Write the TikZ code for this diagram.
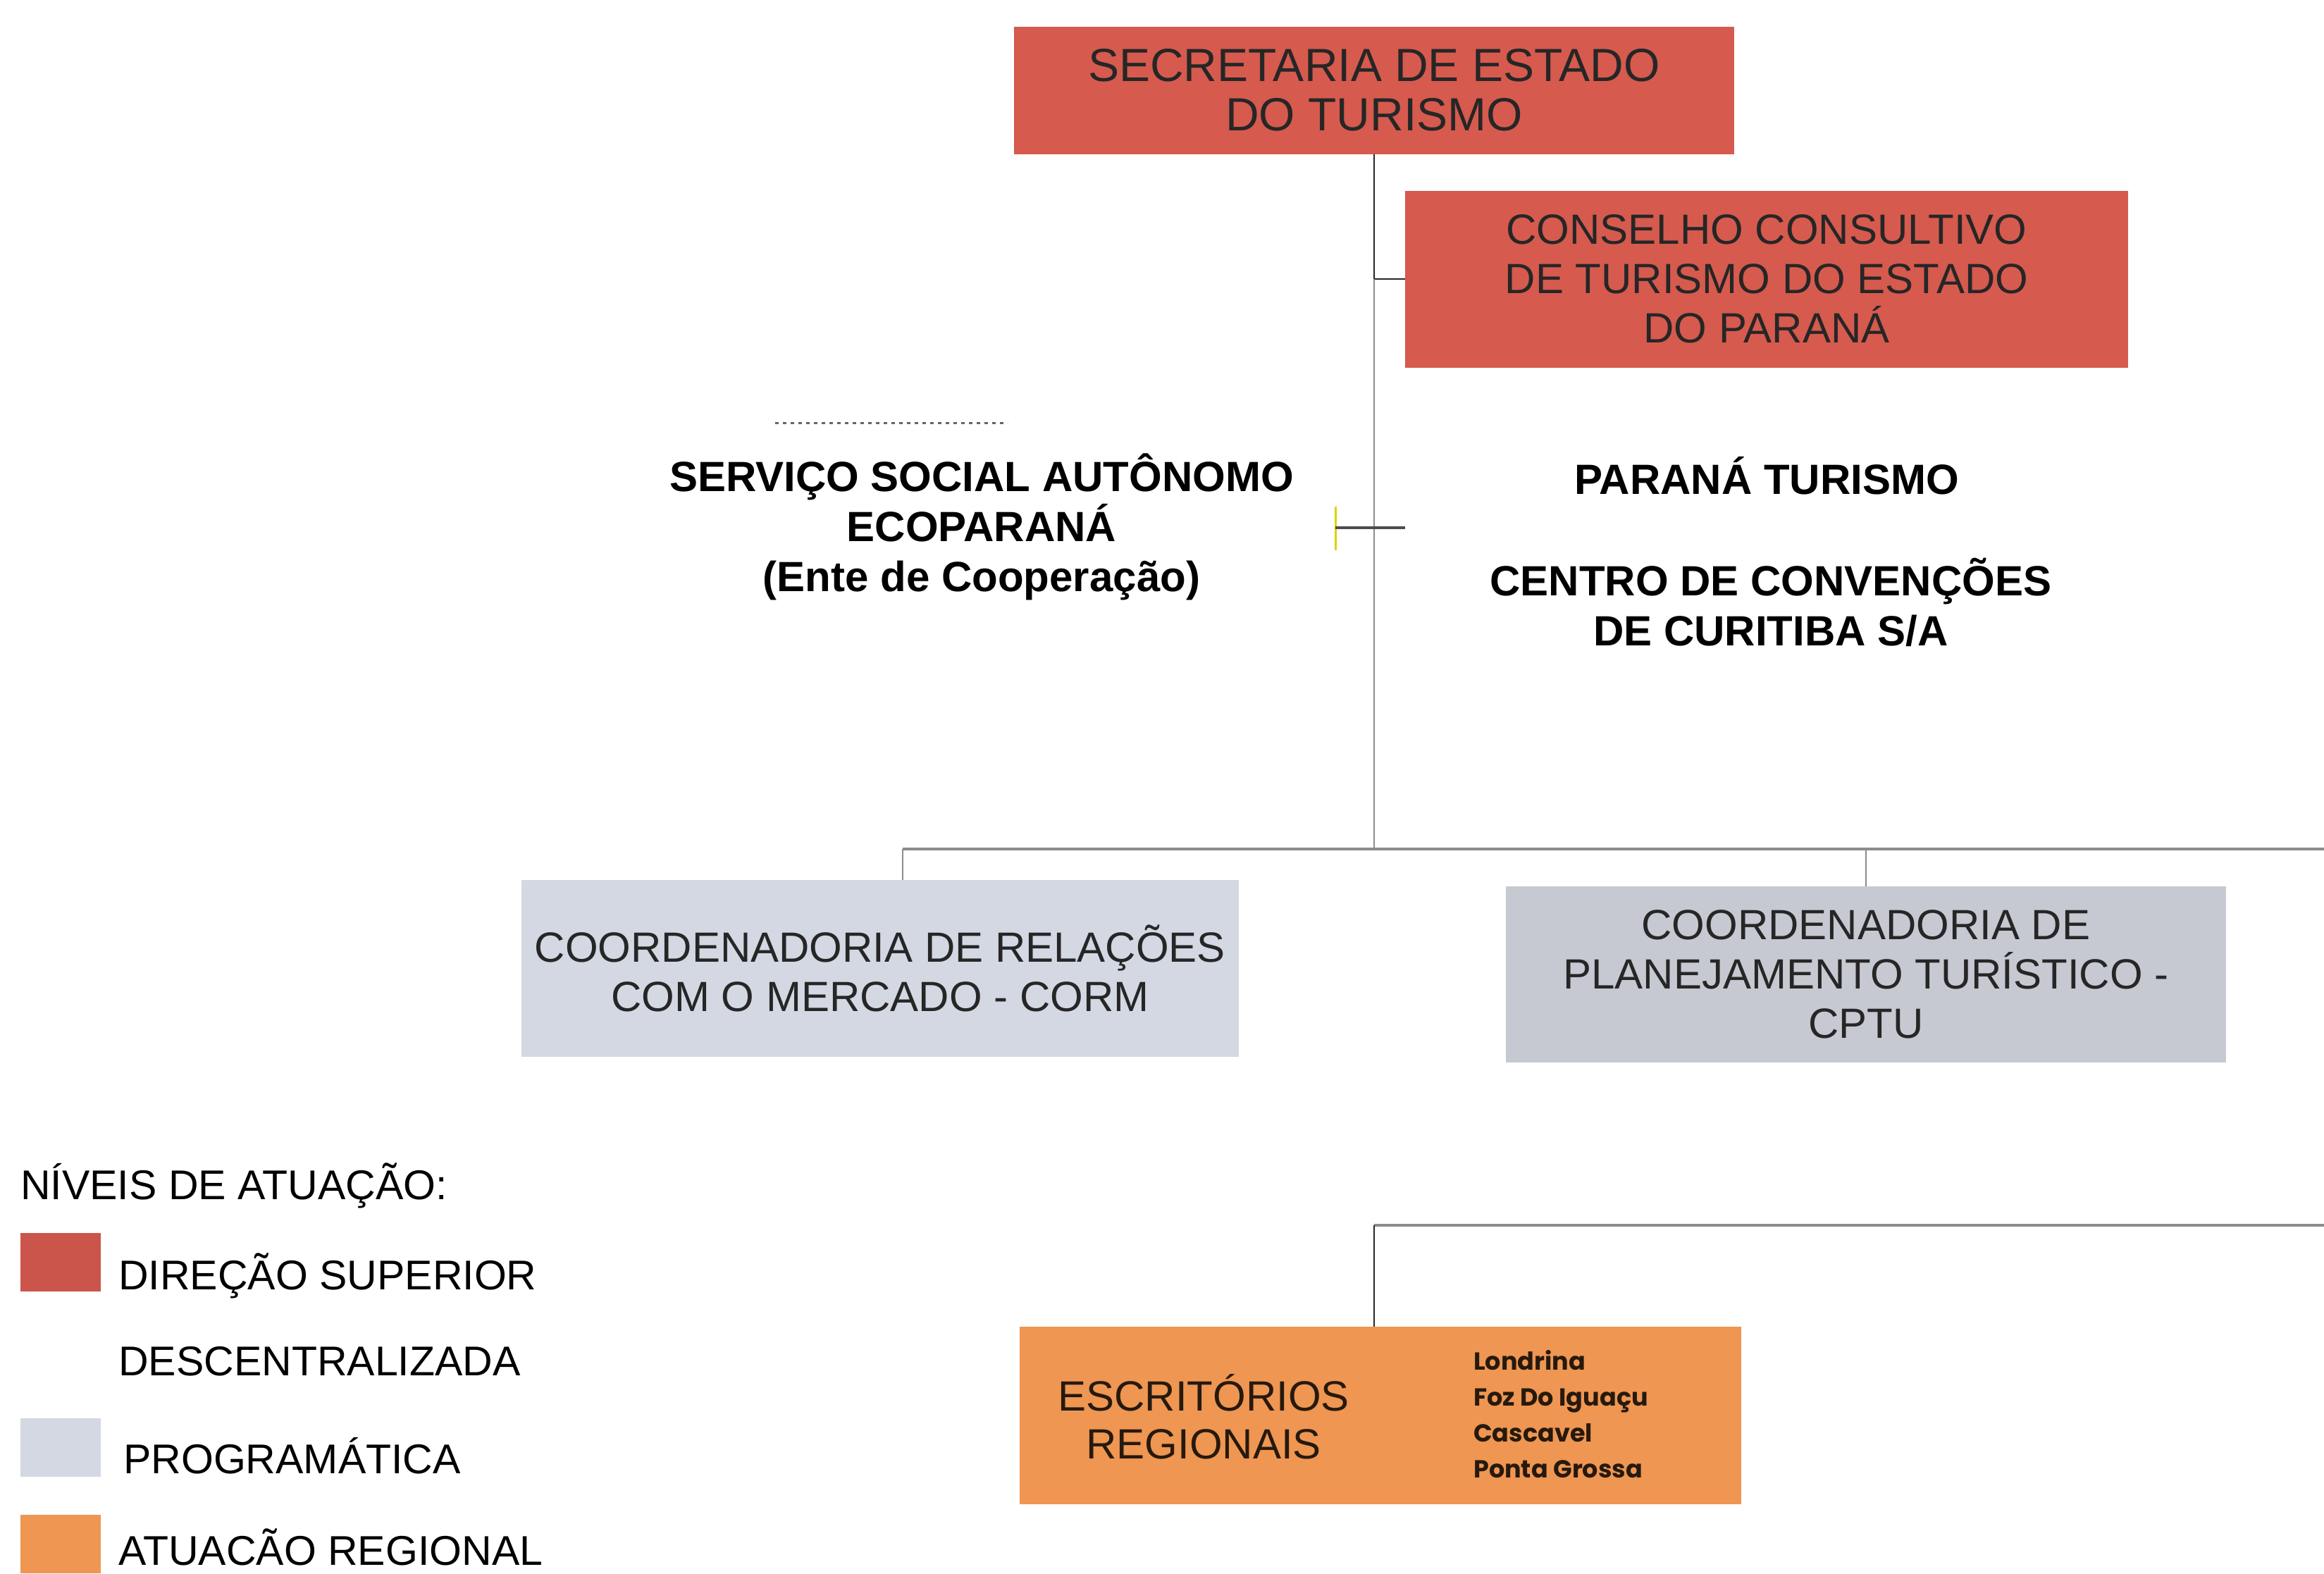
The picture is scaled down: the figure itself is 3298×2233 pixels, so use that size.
\documentclass[tikz,border=0pt]{standalone}
\usepackage{fontspec}
\setmainfont{Liberation Sans}
\newfontfamily\cityfont{Poppins}
\usepackage{tikz}
\usetikzlibrary{calc}
\definecolor{dirRed}{HTML}{D65A4E}
\definecolor{progBlue}{HTML}{D3D8E3}
\definecolor{progGray}{HTML}{C6C9D1}
\definecolor{regOrange}{HTML}{EE9652}
\tikzstyle{edge}=[line width=2.5pt, black!85]
\tikzstyle{edgeG}=[line width=2pt, black!45]
\tikzstyle{edgeH}=[line width=4pt, black!45]
\tikzstyle{box}=[rectangle, inner sep=0pt, align=center, text=black!85, font=\fontsize{60}{70}\selectfont]
\tikzstyle{redBox}=[box, fill=dirRed, minimum width=1022pt, minimum height=181pt, font=\fontsize{66}{70}\selectfont]
\tikzstyle{redBoxB}=[box, fill=dirRed, minimum width=1026pt, minimum height=251pt]
\tikzstyle{progBox}=[box, fill=progBlue, minimum width=1018pt, minimum height=251pt]
\tikzstyle{progBoxB}=[box, fill=progGray, minimum width=1022pt, minimum height=250pt]
\tikzstyle{regBox}=[box, fill=regOrange, minimum width=1024pt, minimum height=252pt]
\tikzstyle{entity}=[align=center, inner sep=0pt, font=\bfseries\fontsize{60}{71}\selectfont]
\tikzstyle{legendSq}=[rectangle, inner sep=0pt, minimum width=114pt, minimum height=83pt]
\tikzstyle{legendT}=[anchor=west, inner sep=0pt, text height=42pt, text depth=0pt, font=\fontsize{59}{62}\selectfont]

\begin{document}
\begin{tikzpicture}[x=1pt, y=-1pt]
    \useasboundingbox (0,0) rectangle (3298,2233);
    \node(sec) [redBox] at (1950, 128){SECRETARIA DE ESTADO\\DO TURISMO};
    \node(cons) [redBoxB] at (2507, 396){CONSELHO CONSULTIVO\\DE TURISMO DO ESTADO\\DO PARANÁ};
    \node(eco) [entity] at (1393, 748){SERVIÇO SOCIAL AUTÔNOMO\\ECOPARANÁ\\(Ente de Cooperação)};
    \node(pt) [entity] at (2507, 675){PARANÁ TURISMO};
    \node(ccc) [entity] at (2513, 855){CENTRO DE CONVENÇÕES\\DE CURITIBA S/A};
    \node(corm) [progBox] at (1249, 1374){COORDENADORIA DE RELAÇÕES\\COM O MERCADO - CORM};
    \node(cptu) [progBoxB] at (2648, 1383){COORDENADORIA DE\\PLANEJAMENTO TURÍSTICO -\\CPTU};
    \node(esc) [regBox] at (1959, 2009){};
    \node(escName) [align=center, inner sep=0pt, text=black!80!brown, font=\fontsize{60}{68}\selectfont] at (1708, 2011){ESCRITÓRIOS\\REGIONAIS};
    \node(escList) [anchor=west, align=left, inner sep=0pt, text=black!80!brown, font=\cityfont\bfseries\fontsize{35}{51}\selectfont] at (2091, 2007){Londrina\\Foz Do Iguaçu\\Cascavel\\Ponta Grossa};
    \coordinate(junction) at (1950, 1205);
    \coordinate(rightEnd) at (3298, 1205);
    \coordinate(cormDrop) at (1281, 1249);
    \coordinate(regEnd) at (3298, 1739);
    \coordinate(tick) at (1895, 749);
    \draw[edge] (sec.south) |- (cons.west);
    \draw[edgeG] (sec.south |- cons.west) -- (junction);
    \draw[edgeH] (cormDrop |- junction) -- (rightEnd);
    \draw[edgeG] (cormDrop) -- (cormDrop |- junction);
    \draw[edgeG] (cptu.north) -- (cptu.north |- junction);
    \draw[edgeH] (sec.south |- regEnd) -- (regEnd);
    \draw[edge] (esc.north -| sec.south) -- (sec.south |- regEnd);
    \draw[line width=3pt, yellow!70!olive] ($(tick)+(0,-30)$) -- ($(tick)+(0,32)$);
    \draw[line width=3.5pt, black!70] (tick) -- (tick -| cons.west);
    \draw[line width=3pt, black!60, dash pattern=on 5pt off 6pt] (1100, 600) -- (1430, 600);
    % legenda
    \node(lgTitle) [legendT] at (29, 1681){NÍVEIS DE ATUAÇÃO:};
    \node(lgRed) [legendSq, fill=dirRed!95!black, anchor=north west] at (29, 1750){};
    \node(lgDir) [legendT] at (168, 1809){DIREÇÃO SUPERIOR};
    \node(lgDesc) [legendT] at (168, 1931){DESCENTRALIZADA};
    \node(lgGray) [legendSq, fill=progBlue, anchor=north west] at (29, 2013){};
    \node(lgProg) [legendT] at (175, 2070){PROGRAMÁTICA};
    \node(lgOrange) [legendSq, fill=regOrange, anchor=north west] at (29, 2150){};
    \node(lgReg) [legendT] at (168, 2200){ATUACÃO REGIONAL};
\end{tikzpicture}
\end{document}
